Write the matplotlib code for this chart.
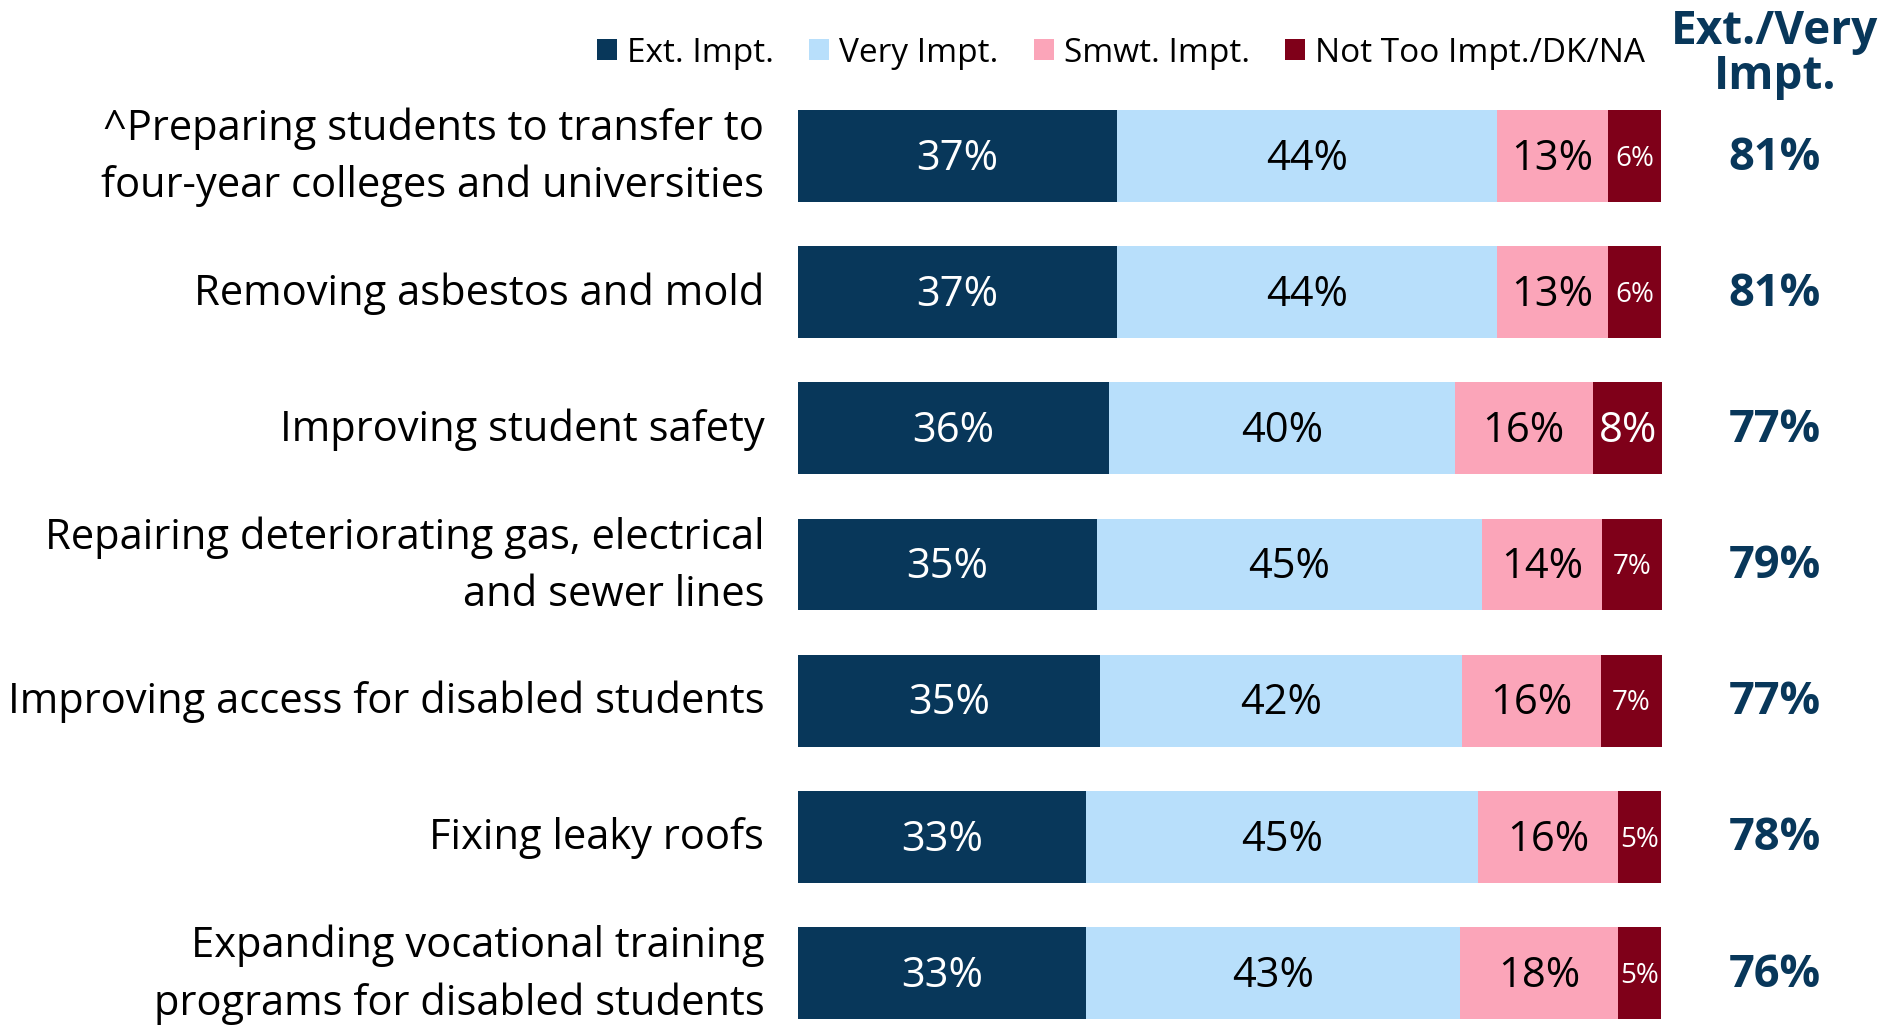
import matplotlib
matplotlib.use("Agg")
import matplotlib.pyplot as plt
from matplotlib.patches import Patch

plt.rcParams['font.family'] = ['Open Sans', 'DejaVu Sans']

categories = [
    "^Preparing students to transfer to\nfour-year colleges and universities",
    "Removing asbestos and mold",
    "Improving student safety",
    "Repairing deteriorating gas, electrical\nand sewer lines",
    "Improving access for disabled students",
    "Fixing leaky roofs",
    "Expanding vocational training\nprograms for disabled students",
]
series_names = ["Ext. Impt.", "Very Impt.", "Smwt. Impt.", "Not Too Impt./DK/NA"]
ext_impt = [36.9, 36.9, 36.0, 34.6, 35.0, 33.3, 33.3]
very_impt = [44.0, 44.0, 40.0, 44.6, 41.9, 45.4, 43.3]
smwt_impt = [12.9, 12.9, 16.0, 13.9, 16.0, 16.2, 18.3]
not_too = [6.1, 6.1, 8.1, 6.9, 7.1, 5.0, 5.0]
ext_very_total = [81, 81, 77, 79, 77, 78, 76]

colors = ["#08375A", "#B8DFFB", "#FBA5B9", "#7F0019"]
text_colors = ["white", "black", "black", "white"]

W, H = 1881, 1025
fig = plt.figure(figsize=(W / 100, H / 100), dpi=100)
ax_left = 798 / W
ax_w = 864 / W
ax_top_px = 88
ax = fig.add_axes([ax_left, 0, ax_w, (H - ax_top_px) / H])
pitch = 136.2
row0_px = 156
ax.set_xlim(0, 100)
ax.set_ylim(6 + (H - 973) / pitch, -(row0_px - ax_top_px) / pitch)
ax.axis('off')

series = [ext_impt, very_impt, smwt_impt, not_too]
ypos = list(range(len(categories)))
left = [0.0] * len(categories)
for s_i, vals in enumerate(series):
    ax.barh(ypos, vals, left=left, height=0.675, color=colors[s_i], edgecolor='none')
    for r, v in enumerate(vals):
        small = v < 7.5
        ax.text(left[r] + v / 2, r + 0.02, f"{round(v)}%", ha='center', va='center',
                color=text_colors[s_i], fontsize=20 if small else 30)
    left = [l + v for l, v in zip(left, vals)]

for r, cat in enumerate(categories):
    ax.text(-3.9, r + 0.01, cat, ha='right', va='center', fontsize=30, color='black',
            linespacing=1.47)

for r, t in enumerate(ext_very_total):
    fig.text(1775 / W, 1 - (row0_px + 2 + r * pitch) / H, f"{t}%", ha='center', va='center',
             fontsize=32.5, fontweight='bold', color=colors[0])

fig.text(1775 / W, 1 - 54 / H, "Ext./Very\nImpt.", ha='center', va='center',
         fontsize=33, fontweight='bold', color=colors[0], linespacing=0.97)

handles = [Patch(facecolor=c, edgecolor='none') for c in colors]
fig.legend(handles, series_names, ncol=4, loc='center', bbox_to_anchor=(1121 / W, 1 - 53 / H),
           frameon=False, fontsize=24, handlelength=0.6, handleheight=0.6,
           handletextpad=0.3, columnspacing=1.05, borderpad=0)

fig.savefig("out.png", dpi=100)
